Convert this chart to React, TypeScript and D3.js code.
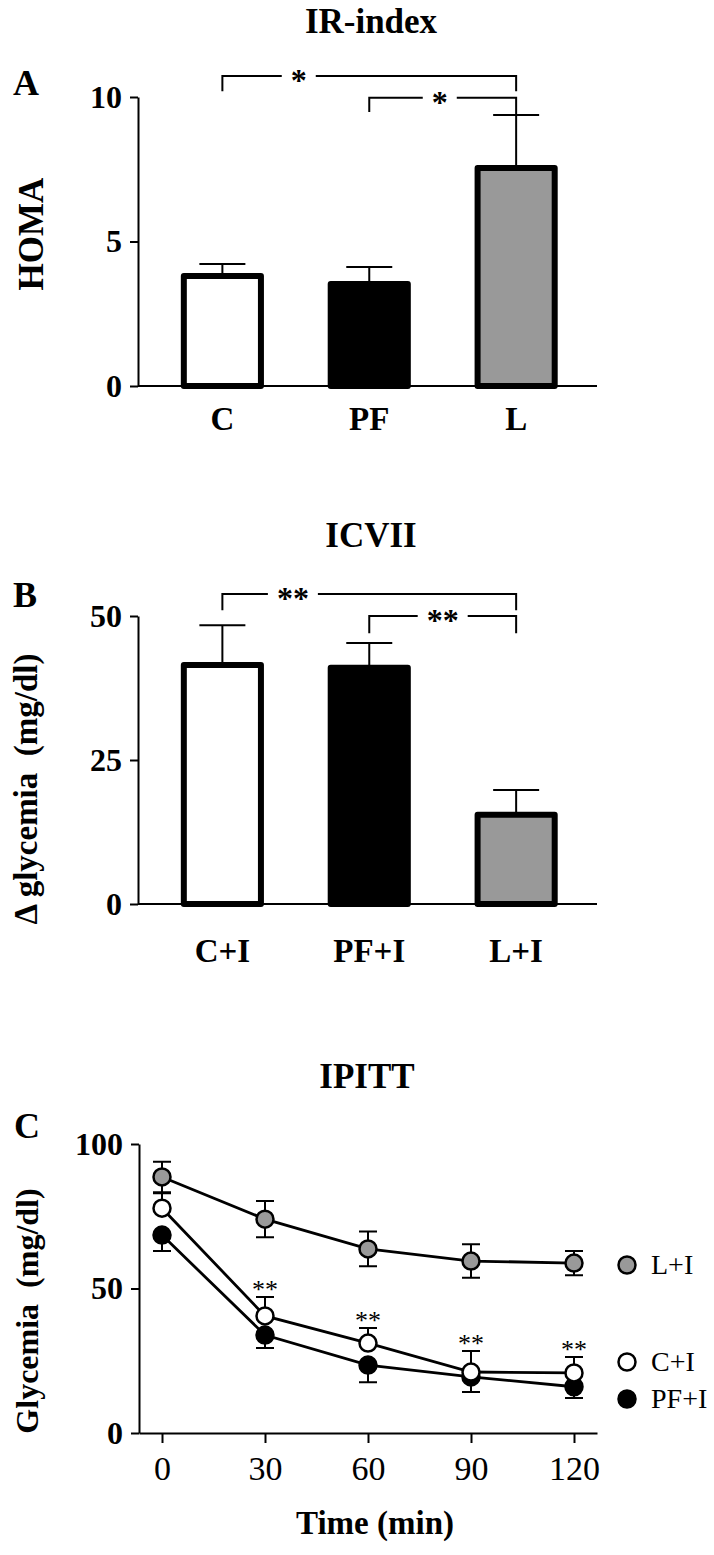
import React, { useEffect, useRef } from 'react'
import * as d3 from 'd3'

const FONT = "'Liberation Serif', 'Times New Roman', Times, serif"

// panel A - IR-index (HOMA)
const irCategories = ['C', 'PF', 'L']
const irValues = [3.81, 3.53, 7.54]
const irErrors = [0.41, 0.59, 1.84]
const irTicks = [0, 5, 10]
const irBrackets = [
	{ from: 'C', to: 'L', y: 10.73, left: 10.2, right: 10.2, label: '*', at: 0.26 },
	{ from: 'PF', to: 'L', y: 9.97, left: 9.48, right: 9.38, label: '*', at: 0.48 },
]

// panel B - ICVII
const icvCategories = ['C+I', 'PF+I', 'L+I']
const icvValues = [41.5, 41.0, 15.5]
const icvErrors = [6.9, 4.3, 4.3]
const icvTicks = [0, 25, 50]
const icvBrackets = [
	{ from: 'C+I', to: 'L+I', y: 53.8, left: 51.0, right: 51.0, label: '**', at: 0.24 },
	{ from: 'PF+I', to: 'L+I', y: 50.0, left: 47.0, right: 47.0, label: '**', at: 0.5 },
]

const barFills = ['#ffffff', '#000000', '#999999']

// panel C - IPITT
const ipittTimes = [0, 30, 60, 90, 120]
const ipittL = [88.6, 74.0, 63.7, 59.5, 58.8]
const ipittLErr = [5.3, 6.3, 6.0, 5.8, 4.2]
const ipittC = [77.8, 40.5, 31.1, 21.1, 20.8]
const ipittCErr = [5.2, 6.6, 5.2, 7.3, 5.5]
const ipittPF = [68.5, 33.9, 23.5, 19.4, 16.0]
const ipittPFErr = [5.5, 4.5, 5.9, 5.2, 3.9]
const ipittYTicks = [0, 50, 100]
const ipittStars = ['', '**', '**', '**', '**']

function styleText(sel, size, weight = 'bold') {
	return sel.attr('font-family', FONT).attr('font-size', size).attr('font-weight', weight).attr('fill', '#000')
}

function drawBars(svg, p) {
	const g = svg.append('g')
	const x = d3
		.scaleBand()
		.domain(p.categories)
		.range([138, 597])
		.paddingInner(0.475)
		.paddingOuter(0.3)
		.align(0.52)
	const y = d3.scaleLinear().domain([0, p.max]).range([p.bottom, p.top])
	const bw = x.bandwidth()
	const cx = (c) => x(c) + bw / 2

	styleText(g.append('text'), 35)
		.attr('x', 371)
		.attr('y', p.titleY)
		.attr('text-anchor', 'middle')
		.text(p.title)
	styleText(g.append('text'), 36).attr('x', 13).attr('y', p.letterY).text(p.letter)
	styleText(g.append('text'), p.yLabelSize)
		.attr('transform', `translate(${p.yLabelX},${p.yLabelY}) rotate(-90)`)
		.attr('text-anchor', 'middle')
		.style('white-space', 'pre')
		.text(p.yLabel)

	// y axis
	const ax = g
		.append('g')
		.attr('transform', 'translate(138,0)')
		.call(d3.axisLeft(y).tickValues(p.ticks).tickSize(8).tickPadding(8).tickSizeOuter(0))
	ax.selectAll('path,line').attr('stroke', '#000').attr('stroke-width', 2)
	styleText(ax.selectAll('text'), 32)

	// error bars (up only)
	p.categories.forEach((c, i) => {
		const top = y(p.values[i] + p.errors[i])
		g.append('line')
			.attr('x1', cx(c)).attr('x2', cx(c))
			.attr('y1', y(p.values[i])).attr('y2', top)
			.attr('stroke', '#000').attr('stroke-width', 2)
		g.append('line')
			.attr('x1', cx(c) - 23).attr('x2', cx(c) + 23)
			.attr('y1', top).attr('y2', top)
			.attr('stroke', '#000').attr('stroke-width', 2)
	})

	g.selectAll('rect.bar')
		.data(p.categories)
		.enter()
		.append('rect')
		.attr('class', 'bar')
		.attr('x', (c) => x(c))
		.attr('y', (c, i) => y(p.values[i]))
		.attr('width', bw)
		.attr('height', (c, i) => y(0) - y(p.values[i]))
		.attr('fill', (c, i) => barFills[i])
		.attr('stroke', '#000')
		.attr('stroke-width', 6)
		.attr('stroke-linejoin', 'round')

	// x axis
	g.append('line')
		.attr('x1', 138).attr('x2', 597)
		.attr('y1', y(0)).attr('y2', y(0))
		.attr('stroke', '#000').attr('stroke-width', 2)

	p.categories.forEach((c) => {
		styleText(g.append('text'), 33)
			.attr('x', cx(c))
			.attr('y', p.catLabelY)
			.attr('text-anchor', 'middle')
			.text(c)
	})

	// significance brackets
	p.brackets.forEach((b) => {
		const x1 = cx(b.from)
		const x2 = cx(b.to)
		const yb = y(b.y)
		const lx = x1 + (x2 - x1) * b.at
		const gap = b.label.length * 8 + 9
		g.append('path')
			.attr('d', `M${x1},${y(b.left)}V${yb}H${lx - gap}M${lx + gap},${yb}H${x2}V${y(b.right)}`)
			.attr('fill', 'none')
			.attr('stroke', '#000')
			.attr('stroke-width', 2)
		styleText(g.append('text'), 32)
			.attr('x', lx)
			.attr('y', yb + 15)
			.attr('text-anchor', 'middle')
			.text(b.label)
	})
}

function drawCurves(svg) {
	const g = svg.append('g')
	const x = d3.scaleLinear().domain([-6.7, 126.7]).range([139, 597])
	const y = d3.scaleLinear().domain([0, 100]).range([1433, 1144])

	styleText(g.append('text'), 35)
		.attr('x', 367).attr('y', 1088)
		.attr('text-anchor', 'middle')
		.text('IPITT')
	styleText(g.append('text'), 36).attr('x', 14).attr('y', 1138).text('C')
	styleText(g.append('text'), 32)
		.attr('transform', 'translate(38,1311) rotate(-90)')
		.attr('text-anchor', 'middle')
		.style('white-space', 'pre')
		.text('Glycemia  (mg/dl)')
	styleText(g.append('text'), 33)
		.attr('x', 375).attr('y', 1534)
		.attr('text-anchor', 'middle')
		.text('Time (min)')

	const ay = g
		.append('g')
		.attr('transform', 'translate(139,0)')
		.call(d3.axisLeft(y).tickValues(ipittYTicks).tickSize(8).tickPadding(8).tickSizeOuter(0))
	ay.selectAll('path,line').attr('stroke', '#000').attr('stroke-width', 2)
	styleText(ay.selectAll('text'), 32)
	const ax = g
		.append('g')
		.attr('transform', 'translate(0,1433)')
		.call(d3.axisBottom(x).tickValues(ipittTimes).tickSize(10).tickPadding(13).tickSizeOuter(0))
	ax.selectAll('path,line').attr('stroke', '#000').attr('stroke-width', 2)
	styleText(ax.selectAll('text'), 34, 'normal')

	const series = [
		{ name: 'PF+I', values: ipittPF, errors: ipittPFErr, fill: '#000000', dir: 'down' },
		{ name: 'C+I', values: ipittC, errors: ipittCErr, fill: '#ffffff', dir: 'up' },
		{ name: 'L+I', values: ipittL, errors: ipittLErr, fill: '#999999', dir: 'both' },
	]

	// error bars
	series.forEach((s) => {
		ipittTimes.forEach((t, i) => {
			const ends = []
			if (s.dir !== 'down') ends.push(s.values[i] + s.errors[i])
			if (s.dir !== 'up') ends.push(s.values[i] - s.errors[i])
			ends.forEach((v) => {
				g.append('path')
					.attr('d', `M${x(t)},${y(s.values[i])}V${y(v)}M${x(t) - 9},${y(v)}H${x(t) + 9}`)
					.attr('fill', 'none')
					.attr('stroke', '#000')
					.attr('stroke-width', 2)
			})
		})
	})

	const line = d3
		.line()
		.x((d) => x(d[0]))
		.y((d) => y(d[1]))
	series.forEach((s) => {
		g.append('path')
			.attr('d', line(ipittTimes.map((t, i) => [t, s.values[i]])))
			.attr('fill', 'none')
			.attr('stroke', '#000')
			.attr('stroke-width', 2.8)
	})
	series.forEach((s) => {
		g.selectAll(null)
			.data(ipittTimes)
			.enter()
			.append('circle')
			.attr('cx', (t) => x(t))
			.attr('cy', (t, i) => y(s.values[i]))
			.attr('r', 8.5)
			.attr('fill', s.fill)
			.attr('stroke', '#000')
			.attr('stroke-width', 2.5)
	})

	// ** over the C+I error bars
	ipittTimes.forEach((t, i) => {
		if (!ipittStars[i]) return
		styleText(g.append('text'), 26, 'normal')
			.attr('x', x(t))
			.attr('y', y(ipittC[i] + ipittCErr[i]) + 1)
			.attr('text-anchor', 'middle')
			.text(ipittStars[i])
	})

	// legend
	const legend = [
		{ name: 'L+I', fill: '#999999', y: 1265 },
		{ name: 'C+I', fill: '#ffffff', y: 1362 },
		{ name: 'PF+I', fill: '#000000', y: 1399 },
	]
	legend.forEach((l) => {
		g.append('circle')
			.attr('cx', 627).attr('cy', l.y).attr('r', 8.5)
			.attr('fill', l.fill).attr('stroke', '#000').attr('stroke-width', 2.5)
		styleText(g.append('text'), 28, 'normal')
			.attr('x', 651).attr('y', l.y + 9)
			.text(l.name)
	})
}

export default function App() {
	const ref = useRef(null)

	useEffect(() => {
		const svg = d3.select(ref.current)
		svg.selectAll('*').remove()
		drawBars(svg, {
			categories: irCategories,
			values: irValues,
			errors: irErrors,
			ticks: irTicks,
			brackets: irBrackets,
			max: 10,
			top: 97,
			bottom: 386,
			title: 'IR-index',
			titleY: 33,
			letter: 'A',
			letterY: 95,
			yLabel: 'HOMA',
			yLabelSize: 35,
			yLabelX: 43,
			yLabelY: 234,
			catLabelY: 430,
		})
		drawBars(svg, {
			categories: icvCategories,
			values: icvValues,
			errors: icvErrors,
			ticks: icvTicks,
			brackets: icvBrackets,
			max: 50,
			top: 616,
			bottom: 904,
			title: 'ICVII',
			titleY: 547,
			letter: 'B',
			letterY: 607,
			yLabel: 'Δ glycemia  (mg/dl)',
			yLabelSize: 33,
			yLabelX: 37,
			yLabelY: 789,
			catLabelY: 962,
		})
		drawCurves(svg)
	}, [])

	return (
		<svg
			ref={ref}
			width={714}
			height={1555}
			style={{ position: 'absolute', left: 0, top: 0, background: '#fff' }}
		/>
	)
}
